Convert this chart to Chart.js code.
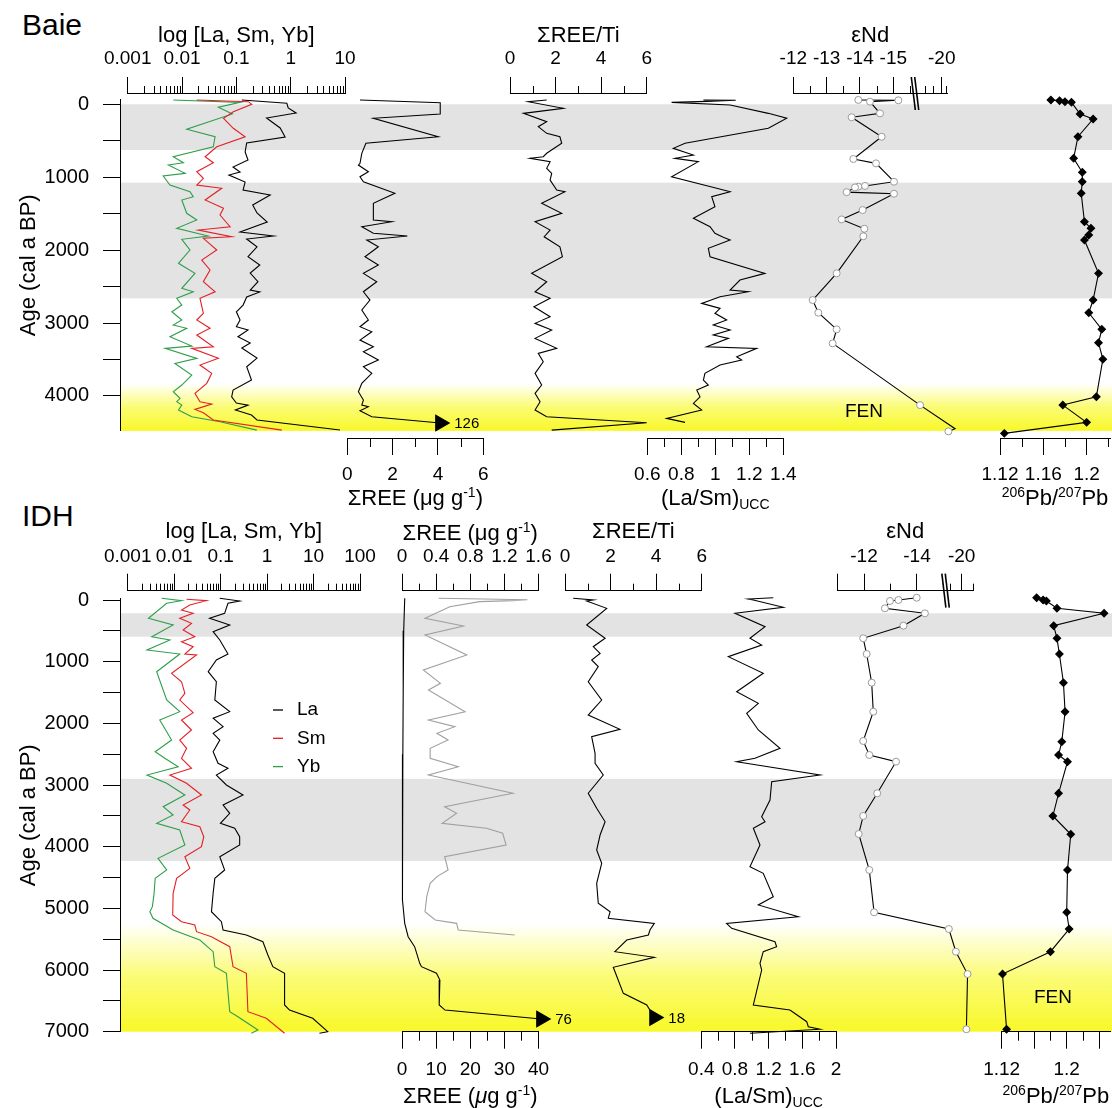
<!DOCTYPE html>
<html>
<head>
<meta charset="utf-8">
<script src="https://cdn.jsdelivr.net/npm/chart.js@4.4.1/dist/chart.umd.min.js"></script>
<style>
  html, body { margin: 0; padding: 0; background: #fff; }
  #fig { position: relative; width: 1112px; height: 1108px; overflow: hidden; font-family: 'Liberation Sans', Arial, sans-serif; }
  #fig canvas { position: absolute; pointer-events: none; }
  .plabel { position: absolute; font-size: 30px; line-height: 1; color: #000; }
</style>
</head>
<body>
<div id="fig">
  <div class="plabel" style="left:22px;top:10px">Baie</div>
  <div class="plabel" style="left:22px;top:501px">IDH</div>
</div>
<script>
// ---- Baie core (ages in cal a BP) ----
const baieLaAge = [-60,-14,51,119,188,325,449,531,654,764,860,929,970,1066,1176,1244,1382,1491,1615,1752,1807,1848,1954,2091,2205,2315,2434,2548,2575,2644,2754,2846,2960,3051,3097,3189,3275,3344,3481,3600,3783,3920,4012,4098,4126,4194,4263,4331,4468];
const baieLa = [0.126,0.85,0.90,1.26,0.36,0.64,0.79,0.155,0.145,0.164,0.087,0.117,0.073,0.145,0.133,0.42,0.20,0.24,0.37,0.117,0.48,0.155,0.24,0.164,0.27,0.18,0.25,0.18,0.27,0.155,0.133,0.10,0.117,0.10,0.164,0.107,0.18,0.126,0.24,0.155,0.19,0.087,0.082,0.10,0.164,0.096,0.19,0.24,8.1];
const baieSmAge = [-60,-36,0,102,192,329,445,582,719,801,925,1015,1107,1152,1313,1427,1519,1679,1725,1817,1838,1999,2136,2273,2434,2571,2662,2867,2959,3073,3165,3326,3348,3485,3577,3691,3828,3965,4080,4112,4185,4231,4331,4469];
const baieSm = [0.0187,0.166,0.192,0.088,0.058,0.088,0.145,0.0436,0.0266,0.0377,0.0187,0.0247,0.0187,0.0538,0.0266,0.058,0.050,0.0766,0.020,0.0822,0.0247,0.0436,0.0231,0.0328,0.0247,0.0406,0.0214,0.0247,0.0187,0.0328,0.0187,0.0377,0.0151,0.0467,0.0214,0.0352,0.0285,0.0173,0.0214,0.0352,0.0173,0.0247,0.0377,0.686];
const baieYbAge = [-60,-27,41,133,343,445,582,719,801,833,947,984,1107,1199,1268,1313,1495,1587,1701,1807,1852,1999,2181,2319,2524,2571,2662,2754,2846,2959,3028,3073,3189,3316,3348,3485,3554,3714,3851,3943,4034,4080,4126,4194,4286,4355,4469];
const baieYb = [0.0069,0.117,0.0467,0.0843,0.0122,0.0406,0.0377,0.0069,0.0106,0.0056,0.0114,0.0045,0.0060,0.0140,0.0161,0.0099,0.0122,0.0187,0.0080,0.0305,0.0099,0.0140,0.0086,0.0173,0.0099,0.0161,0.0080,0.0099,0.0065,0.0099,0.0069,0.0122,0.0060,0.0151,0.0049,0.0187,0.0074,0.0151,0.0099,0.0069,0.0092,0.0080,0.0099,0.0086,0.0151,0.050,0.238];
const baieReeAge = [-60,-22,33,133,192,445,535,672,809,833,925,993,1062,1221,1358,1587,1611,1679,1770,1807,1862,1954,2091,2205,2319,2434,2571,2685,2822,2959,3051,3120,3234,3326,3394,3508,3600,3691,3828,3943,4057,4126,4149,4204,4286,4372];
const baieRee = [0.56,5.63,4.53,6.15,1.15,4.01,0.82,0.64,0.56,0.49,0.93,0.56,0.71,2.10,1.15,1.15,1.96,0.64,1.15,2.65,0.86,1.37,0.78,1.37,0.71,1.30,0.71,1.00,0.64,0.93,0.56,1.08,0.56,1.15,0.71,1.37,0.71,1.08,0.64,0.49,0.71,0.64,0.93,0.56,1.08,126];
const baieReeTiAge = [-60,-36,55,124,238,307,398,445,535,672,719,741,787,878,947,1039,1176,1199,1358,1495,1611,1725,1817,1954,2091,2319,2434,2571,2662,2777,2914,3005,3097,3211,3348,3417,3531,3691,3851,3965,4080,4194,4286,4368,4469];
const baieReeTi = [1.61,0.80,2.34,0.59,1.61,1.24,1.61,2.19,2.27,1.61,1.46,0.88,1.76,1.61,1.83,1.76,2.05,2.41,1.39,2.27,1.10,1.76,1.50,2.19,2.30,0.95,1.61,1.10,1.76,1.05,1.76,1.10,1.83,1.10,2.05,1.24,1.46,1.10,1.39,1.10,1.32,1.10,1.61,6.0,1.83];
const baieLaSmAge = [-60,-55,-40,-27,10,124,192,329,535,604,696,741,787,993,1152,1199,1268,1405,1564,1679,1770,1825,1862,1976,2091,2319,2411,2548,2571,2640,2731,2799,2867,2959,3028,3097,3165,3211,3326,3348,3463,3508,3577,3691,3783,3851,3920,4012,4103,4194,4308,4363];
const baieLaSm = [0.93,1.12,0.95,0.743,1.087,1.312,1.42,1.312,0.822,0.753,0.871,0.763,0.90,0.743,1.008,1.087,0.979,0.998,0.871,0.969,0.998,1.047,1.087,0.959,0.969,1.292,1.145,1.087,1.194,1.028,0.92,1.028,0.998,1.067,0.988,1.087,0.988,1.077,0.949,1.243,1.126,1.155,1.028,0.939,0.93,0.959,0.891,0.91,0.871,0.92,0.714,0.822];
const baieNdAge = [-60,-55,-36,124,178,445,750,810,1062,1120,1130,1140,1205,1227,1451,1579,1707,1810,2319,2685,2859,3087,3279,4126,4450,4487];
const baieNd = [-13.95,-15.15,-14.30,-14.60,-13.75,-14.65,-13.80,-14.48,-15.02,-14.15,-13.95,-13.85,-13.60,-15.02,-14.08,-13.45,-14.13,-14.10,-13.30,-12.58,-12.75,-13.30,-13.18,-17.4,-21.6,-20.8];
const baiePbAge = [-60,-50,-36,-27,133,202,445,741,933,1062,1221,1611,1701,1793,1862,2319,2685,2859,3087,3271,3498,4012,4126,4363,4514];
const baiePb = [1.167,1.175,1.180,1.186,1.194,1.206,1.192,1.188,1.196,1.196,1.195,1.198,1.204,1.202,1.198,1.211,1.206,1.202,1.214,1.211,1.215,1.209,1.178,1.200,1.124];
const baieGrayBands = [[0, 627], [1075, 2662]];
const baieFenZone = [3830, 4480];

// ---- IDH core ----
const idhLaAge = [-28,16,54,216,297,405,514,649,876,973,1163,1325,1622,1811,1918,2054,2161,2270,2460,2648,2729,2838,3000,3162,3324,3459,3621,3702,3838,3973,4162,4378,4513,4756,5054,5216,5351,5432,5541,5756,5946,6053,6567,6649,6783,7000,7025];
const idhLa = [0.096,0.257,0.144,0.122,0.058,0.157,0.069,0.096,0.144,0.081,0.054,0.081,0.075,0.157,0.069,0.113,0.069,0.096,0.069,0.088,0.144,0.081,0.133,0.303,0.113,0.157,0.099,0.201,0.257,0.257,0.096,0.122,0.075,0.069,0.0635,0.104,0.113,0.358,0.813,1.04,1.33,2.38,2.38,3.04,9.6,20.2,13.4];
const idhSmAge = [-11,11,81,162,216,297,378,486,595,676,757,876,892,1189,1325,1513,1622,1827,1946,2108,2270,2405,2567,2729,2838,2972,3162,3324,3405,3595,3676,3838,4000,4162,4351,4513,4756,5108,5216,5270,5378,5460,5622,5946,6053,6676,6783,7025];
const idhSm = [0.0185,0.0495,0.0217,0.0144,0.0256,0.0132,0.0236,0.0156,0.0278,0.0144,0.0256,0.0170,0.0303,0.0088,0.0144,0.0170,0.0132,0.0256,0.0144,0.0236,0.0132,0.0185,0.0144,0.0236,0.0081,0.0185,0.0387,0.0156,0.0217,0.0144,0.0357,0.0434,0.0387,0.0170,0.0217,0.0113,0.0095,0.0093,0.0144,0.0278,0.0303,0.0635,0.157,0.185,0.358,0.387,0.96,2.38];
const idhYbAge = [-28,11,54,297,405,595,649,811,876,1163,1622,1811,1946,2270,2460,2567,2703,2838,2972,3162,3352,3486,3621,3730,3973,4189,4378,4513,4756,4973,5054,5162,5351,5513,5703,5946,6053,6676,6757,6973,7025];
const idhYb = [0.0054,0.0144,0.0069,0.0028,0.0095,0.0033,0.0081,0.0026,0.0132,0.0042,0.0069,0.0132,0.0049,0.0088,0.0039,0.0063,0.0122,0.0026,0.0069,0.0170,0.0058,0.0095,0.0042,0.0132,0.0170,0.0045,0.0069,0.0039,0.0037,0.0034,0.0030,0.0035,0.0095,0.0357,0.069,0.075,0.133,0.157,0.236,0.635,0.458];
const idhReeAge = [-30,500,1500,2500,3500,4054,4865,5243,5460,5622,5892,5946,6053,6162,6567,6649,6794];
const idhRee = [0.8,0.5,0.35,0.25,0.15,0.05,0.2,0.8,1.8,3.7,5.2,5.7,10.1,11.1,10.9,12.6,76];
const idhReeFineAge = [-28,-5,10,27,108,297,422,568,892,1135,1351,1459,1811,1946,2054,2161,2270,2405,2567,2703,2838,3134,3352,3459,3621,3702,3783,3973,4162,4378,4486,4594,4811,5054,5189,5243,5351,5432];
const idhReeFine = [0.43,1.47,1.30,0.91,0.56,0.27,0.72,0.27,0.76,0.25,0.45,0.31,0.74,0.31,0.62,0.41,0.54,0.33,0.33,0.66,0.31,1.30,0.50,0.64,0.47,0.99,1.18,1.22,0.50,0.54,0.41,0.33,0.29,0.27,0.39,0.64,0.66,1.32];
const idhReeTiAge = [-28,0,16,135,405,621,757,865,973,1081,1325,1622,1865,2097,2216,2486,2648,2838,3134,3378,3595,3811,4054,4270,4594,4918,5054,5162,5243,5351,5432,5513,5703,5794,5956,6378,6567,6770];
const idhReeTi = [0.36,1.24,0.95,1.83,0.95,1.76,1.24,1.54,1.17,1.46,1.02,1.61,1.02,2.41,1.17,1.32,1.32,1.68,1.02,1.39,1.76,1.54,1.39,1.61,1.39,1.46,1.98,1.90,4.61,3.73,3.66,2.71,2.19,5.71,2.12,2.56,3.59,18];
const idhLaSmAge = [-37,-16,0,118,216,433,621,730,919,1189,1487,1675,1837,2108,2405,2567,2622,2838,2946,3243,3514,3595,3702,3973,4324,4432,4811,4945,5135,5243,5324,5541,5622,5703,5891,6000,6567,6649,6838,6919,6961,7025];
const idhLaSm = [1.255,0.958,1.018,1.374,0.80,1.157,0.978,1.117,0.721,1.136,0.82,1.077,0.939,1.077,1.335,1.038,0.82,1.81,1.236,1.216,1.117,1.157,1.018,1.097,0.978,1.136,1.255,1.077,1.552,0.70,0.761,1.275,1.295,1.136,1.097,1.117,1.018,1.453,1.652,1.671,1.81,0.978];
const idhNdAge = [-37,0,16,135,216,417,621,876,1341,1811,2286,2513,2622,3134,3502,3794,4378,5064,5335,5703,6065,6961];
const idhNd = [-13.99,-13.30,-12.98,-12.79,-14.30,-13.49,-11.97,-12.10,-12.29,-12.35,-11.97,-12.20,-13.21,-12.50,-11.97,-11.80,-12.20,-12.38,-18.9,-19.5,-20.5,-20.4];
const idhPbAge = [-37,0,16,135,216,417,621,876,1341,1811,2297,2513,2622,3134,3502,3799,4378,5064,5335,5703,6065,6961];
const idhPb = [1.163,1.171,1.175,1.188,1.246,1.184,1.188,1.191,1.196,1.198,1.194,1.190,1.201,1.190,1.183,1.205,1.201,1.200,1.203,1.180,1.121,1.126];
const idhGrayBands = [[215, 595], [2900, 4230]];
const idhFenZone = [5240, 7000];

// ---- tick labels ----
const baieAgeTicks = [0,500,1000,1500,2000,2500,3000,3500,4000];
const idhAgeTicks = [0,500,1000,1500,2000,2500,3000,3500,4000,4500,5000,5500,6000,6500,7000];
const baieLogTicks = [0.001, 0.01, 0.1, 1, 10];
const idhLogTicks = [0.001, 0.01, 0.1, 1, 10, 100];
const reeTiTicks = [0, 2, 4, 6];
const baieLaSmTicks = [0.6, 0.8, 1, 1.2, 1.4];
const baieNdTicks = [-12, -13, -14, -15, -20];
const baiePbTicks = [1.12, 1.16, 1.2];
const idhReeFineTicks = [0, 0.4, 0.8, 1.2, 1.6];
const idhReeTicks = [0, 10, 20, 30, 40];
const idhLaSmTicks = [0.4, 0.8, 1.2, 1.6, 2];
const idhNdTicks = [-11, -12, -14, -20];
const idhNdLabeled = [-12, -14, -20];
const idhPbTicks = [1.12, 1.16, 1.2, 1.24];
const idhPbLabeled = [1.12, 1.2];

// ---------------------------------------------------------------
const FONT = "'Liberation Sans', Arial, sans-serif";
Chart.defaults.font.family = FONT;
Chart.defaults.color = '#000';
const fig = document.getElementById('fig');

const TICK_SIZE = 19, TITLE_SIZE = 22;

// panel geometry (page pixels)
const PANELS = {
  baie: { top: 0, height: 520, y0: 104.3, ppu: 0.0729, axTop: 93, axBot: 438, ageMin: -65, ageMax: 4480,
          ageTicks: baieAgeTicks, gray: baieGrayBands, fen: baieFenZone,
          tlTop: 16, tlBot: 17, mlTop: 7, mlBot: 9, lpTop: 6.5, lpBot: 8.5, titleCy: 36, richTop: 59, richBot: 59 },
  idh:  { top: 500, height: 608, y0: 600, ppu: 0.06167, axTop: 590.7, axBot: 1031.7, ageMin: -20, ageMax: 7000,
          ageTicks: idhAgeTicks, gray: idhGrayBands, fen: idhFenZone,
          tlTop: 17, tlBot: 17, mlTop: 7, mlBot: 9, lpTop: 5.5, lpBot: 10, titleCy: 531.7, richTop: 59, richBot: 63 }
};

// εNd axis with a break: values past the break are compressed
const baieNdBreak = { brk: 15.65, u20: 16.452, k: 0.25 };
const idhNdBreak = { brk: 15.1, u20: 15.69, k: 0.4415 };
function ndU(v, b) { const a = -v; return a <= b.brk ? a : b.u20 + (a - 20) * b.k; }

const minorLog = decades => decades.flatMap(d => [2,3,4,5,6,7,8,9].map(m => m * d));

function makeCanvas(left, top, w, h) {
  const c = document.createElement('canvas');
  c.width = w; c.height = h;
  c.style.left = left + 'px'; c.style.top = top + 'px';
  c.style.width = w + 'px'; c.style.height = h + 'px';
  fig.appendChild(c);
  return c;
}

function line(ages, vals, color, xAxisID, extra) {
  return Object.assign({
    data: ages.map((a, i) => ({ x: vals[i], y: a })),
    borderColor: color, borderWidth: 1.1, pointRadius: 0, tension: 0, fill: false,
    clip: false, xAxisID, yAxisID: 'y'
  }, extra || {});
}

// line ending in an off-scale value drawn as an arrow
function capped(ages, vals, cap, xAxisID) {
  const n = vals.length;
  return line(ages, vals.map(v => Math.min(v, cap)), '#000', xAxisID, {
    pointStyle: 'triangle', pointRotation: 90, pointBackgroundColor: '#000', pointBorderColor: '#000',
    pointRadius: c => (c.dataIndex === n - 1 && vals[n - 1] > cap ? 9 : 0)
  });
}

function decor(d) {
  return {
    id: 'decor',
    afterDatasetsDraw(chart) {
      const ctx = chart.ctx;
      (d.arrows || []).forEach(a => {
        const el = chart.getDatasetMeta(a.dataset).data[a.index];
        ctx.save();
        ctx.fillStyle = '#000'; ctx.font = '15px ' + FONT;
        ctx.textAlign = 'left'; ctx.textBaseline = 'middle';
        ctx.fillText(a.text, el.x + a.dx, el.y + 1);
        ctx.restore();
      });
    },
    afterDraw(chart) {
      const ctx = chart.ctx;
      ctx.save();
      ctx.strokeStyle = '#000'; ctx.fillStyle = '#000'; ctx.lineWidth = 1;
      (d.minor || []).forEach(m => {
        const s = chart.scales[m.axis];
        const top = s.position === 'top';
        const base = top ? s.bottom : s.top;
        ctx.beginPath();
        m.values.forEach(v => {
          const x = Math.round(s.getPixelForValue(v)) + 0.5;
          ctx.moveTo(x, base); ctx.lineTo(x, base + (top ? -m.len : m.len));
        });
        ctx.stroke();
      });
      (d.breaks || []).forEach(b => {
        const s = chart.scales[b.axis];
        const x = s.getPixelForValue(b.at);
        const base = s.bottom;
        ctx.lineWidth = 1.6;
        [-1.7, 1.7].forEach(o => {
          ctx.beginPath(); ctx.moveTo(x + o - 2, base - b.up); ctx.lineTo(x + o + 2, base + b.down); ctx.stroke();
        });
        ctx.lineWidth = 1;
      });
      (d.rich || []).forEach(it => {
        const s = chart.scales[it.axis];
        const size = TITLE_SIZE;
        const cy = s.position === 'top' ? s.bottom - it.dy : s.top + it.dy;
        const cx = (s.left + s.right) / 2;
        const runs = it.parts.map(p => {
          const fs = (p.sub || p.sup) ? 14 : size;
          const font = (p.it ? 'italic ' : '') + fs + 'px ' + FONT;
          ctx.font = font;
          return Object.assign({ font, w: ctx.measureText(p.t).width }, p);
        });
        let x = cx - runs.reduce((a, r) => a + r.w, 0) / 2;
        const base = cy + size * 0.36;
        ctx.textAlign = 'left'; ctx.textBaseline = 'alphabetic';
        runs.forEach(r => {
          ctx.font = r.font;
          ctx.fillText(r.t, x, r.sup ? base - 7.5 : r.sub ? base + 4 : base);
          x += r.w;
        });
      });
      (d.notes || []).forEach(n => {
        const s = chart.scales[n.axis];
        ctx.font = '19px ' + FONT; ctx.textAlign = 'center'; ctx.textBaseline = 'middle';
        ctx.fillText(n.text, s.getPixelForValue(n.x), chart.scales.y.getPixelForValue(n.age));
      });
      if (d.legend) {
        const L = d.legend, ca = chart.chartArea;
        chart.data.datasets.forEach((ds, i) => {
          const y = ca.top + L.dy + i * L.gap;
          ctx.strokeStyle = ds.borderColor; ctx.lineWidth = 1.3;
          ctx.beginPath(); ctx.moveTo(ca.left + L.dx, y); ctx.lineTo(ca.left + L.dx + 10, y); ctx.stroke();
          ctx.fillStyle = '#000'; ctx.font = '19px ' + FONT; ctx.textAlign = 'left'; ctx.textBaseline = 'middle';
          ctx.fillText(ds.label, ca.left + L.tx, y);
        });
      }
      ctx.restore();
    }
  };
}

function xAxis(P, a, boxH) {
  const tf = a.tf || (v => v);
  const top = a.pos === 'top';
  const labeled = a.labeled || a.major;
  const labels = a.major.map(v => (labeled.includes(v) ? String(v) : ''));
  return {
    type: a.type || 'linear', position: a.pos,
    min: tf(a.min), max: tf(a.max),
    grid: { display: true, drawOnChartArea: false, drawTicks: true, tickLength: top ? P.tlTop : P.tlBot, color: '#000', lineWidth: 1 },
    border: { display: true, color: '#000', width: 1 },
    ticks: { autoSkip: false, maxRotation: 0, minRotation: 0, padding: top ? P.lpTop : P.lpBot,
             color: '#000', font: { size: TICK_SIZE }, callback: (v, i) => labels[i] },
    title: a.title
      ? { display: true, text: a.title, color: '#000', font: { size: TITLE_SIZE },
          padding: { top: P.titleCy - P.top - TITLE_SIZE * 0.6, bottom: 0 } }
      : { display: false },
    afterBuildTicks: s => { s.ticks = a.major.map(v => ({ value: tf(v) })); },
    afterFit: s => { s.height = boxH; s.paddingLeft = 0; s.paddingRight = 0; }
  };
}

function buildTrack(P, t) {
  const left = Math.floor(t.x0) - 60;
  const w = Math.ceil(t.x1) + 60 - left;
  const canvas = makeCanvas(left, P.top, w, P.height);
  const topH = P.axTop - P.top, botH = P.top + P.height - P.axBot;
  const hasTop = t.axes.some(a => a.pos === 'top');
  const hasBot = t.axes.some(a => a.pos === 'bottom');
  const scales = {
    y: { type: 'linear', display: false, reverse: true, min: (P.axTop - P.y0) / P.ppu, max: (P.axBot - P.y0) / P.ppu }
  };
  const minor = [], rich = [];
  t.axes.forEach(a => {
    scales[a.id] = xAxis(P, a, a.pos === 'top' ? topH : botH);
    if (a.minor) minor.push({ axis: a.id, values: a.minor.map(a.tf || (v => v)), len: a.pos === 'top' ? P.mlTop : P.mlBot });
    if (a.rich) rich.push({ axis: a.id, parts: a.rich, dy: a.pos === 'top' ? P.richTop : P.richBot });
  });
  new Chart(canvas, {
    type: 'line',
    data: { datasets: t.datasets },
    options: {
      responsive: false, animation: false, events: [],
      layout: { padding: { left: t.x0 - left, right: left + w - t.x1, top: hasTop ? 0 : topH, bottom: hasBot ? 0 : botH } },
      scales,
      plugins: { legend: { display: false }, tooltip: { enabled: false } }
    },
    plugins: [decor(Object.assign({ minor, rich }, t.decor || {}))]
  });
}

function bandsPlugin(gray, fen) {
  return {
    id: 'bands',
    beforeDraw(chart) {
      const { ctx, chartArea: ca } = chart;
      const y = chart.scales.y;
      ctx.save();
      ctx.fillStyle = '#e3e3e3';
      gray.forEach(([a, b]) => {
        const ya = y.getPixelForValue(a), yb = y.getPixelForValue(b);
        ctx.fillRect(ca.left, ya, ca.right - ca.left, yb - ya);
      });
      const ya = y.getPixelForValue(fen[0]), yb = y.getPixelForValue(fen[1]);
      const g = ctx.createLinearGradient(0, ya, 0, yb);
      g.addColorStop(0, 'rgba(250,250,70,0)');
      g.addColorStop(0.5, 'rgba(250,250,70,0.75)');
      g.addColorStop(1, 'rgba(248,248,40,1)');
      ctx.fillStyle = g;
      ctx.fillRect(ca.left, ya, ca.right - ca.left, yb - ya);
      ctx.restore();
    }
  };
}

function backdrop(P) {
  const canvas = makeCanvas(0, P.top, 1112, P.height);
  const yTop = P.y0 + P.ageMin * P.ppu, yBot = P.y0 + P.ageMax * P.ppu;
  new Chart(canvas, {
    type: 'line',
    data: { datasets: [] },
    options: {
      responsive: false, animation: false, events: [],
      layout: { padding: { top: yTop - P.top, bottom: P.top + P.height - yBot, left: 0, right: 0 } },
      scales: {
        x: { type: 'linear', display: false, min: 0, max: 1 },
        y: {
          type: 'linear', reverse: true, position: 'left', min: P.ageMin, max: P.ageMax,
          grid: { display: true, drawOnChartArea: false, tickLength: 17, color: '#000' },
          border: { display: true, color: '#000', width: 1 },
          ticks: { autoSkip: false, padding: 14, color: '#000', font: { size: 20 },
                   callback: v => (v % 1000 === 0 ? String(v) : '') },
          title: { display: true, text: 'Age (cal a BP)', color: '#000', font: { size: 22 }, padding: { top: 16, bottom: 0 } },
          afterBuildTicks: s => { s.ticks = P.ageTicks.map(v => ({ value: v })); },
          afterFit: s => { s.width = 120; s.paddingTop = 0; s.paddingBottom = 0; }
        }
      },
      plugins: { legend: { display: false }, tooltip: { enabled: false } }
    },
    plugins: [bandsPlugin(P.gray, P.fen)]
  });
}

const RED = '#e41e26', GREEN = '#2e9e4a';
const reeTitle = [{ t: 'ΣREE (μg g' }, { t: '-1', sup: true }, { t: ')' }];
const reeTitleIt = [{ t: 'ΣREE (' }, { t: 'μ', it: true }, { t: 'g g' }, { t: '-1', sup: true }, { t: ')' }];
const laSmTitle = [{ t: '(La/Sm)' }, { t: 'UCC', sub: true }];
const pbTitle = [{ t: '206', sup: true }, { t: 'Pb/' }, { t: '207', sup: true }, { t: 'Pb' }];
const ndPoints = { pointRadius: 3.5, pointStyle: 'circle', pointBackgroundColor: '#fff', pointBorderColor: '#9a9a9a', pointBorderWidth: 1 };
const pbPoints = { pointRadius: 3.7, pointStyle: 'rectRot', pointBackgroundColor: '#000', pointBorderColor: '#000' };

// ================= Baie =================
const B = PANELS.baie;
backdrop(B);
buildTrack(B, { x0: 127.7, x1: 345, axes: [
  { id: 'x', pos: 'top', type: 'logarithmic', min: 0.001, max: 10, major: baieLogTicks,
    minor: minorLog([0.001, 0.01, 0.1, 1]), title: 'log [La, Sm, Yb]' }],
  datasets: [
    line(baieLaAge, baieLa, '#000', 'x', { label: 'La' }),
    line(baieSmAge, baieSm, RED, 'x', { label: 'Sm' }),
    line(baieYbAge, baieYb, GREEN, 'x', { label: 'Yb' })] });
buildTrack(B, { x0: 347.3, x1: 483.3, axes: [
  { id: 'x', pos: 'bottom', min: 0, max: 6, major: reeTiTicks, minor: [1, 3, 5], rich: reeTitle }],
  datasets: [capped(baieReeAge, baieRee, 4.1, 'x')],
  decor: { arrows: [{ dataset: 0, index: baieRee.length - 1, text: String(baieRee[baieRee.length - 1]), dx: 14 }] } });
buildTrack(B, { x0: 510, x1: 646.7, axes: [
  { id: 'x', pos: 'top', min: 0, max: 6, major: reeTiTicks, minor: [1, 3, 5], title: 'ΣREE/Ti' }],
  datasets: [line(baieReeTiAge, baieReeTi, '#000', 'x')] });
buildTrack(B, { x0: 647.3, x1: 783.3, axes: [
  { id: 'x', pos: 'bottom', min: 0.6, max: 1.4, major: baieLaSmTicks, minor: [0.7, 0.9, 1.1, 1.3], rich: laSmTitle }],
  datasets: [line(baieLaSmAge, baieLaSm, '#000', 'x')] });
const baieTf = v => ndU(v, baieNdBreak);
buildTrack(B, { x0: 793.3, x1: 947, axes: [
  { id: 'x', pos: 'top', min: -12, max: -20.63, tf: baieTf, major: baieNdTicks,
    minor: [-12.5, -13.5, -14.5, -15.5, -18, -19, -20.5], title: 'εNd' }],
  datasets: [line(baieNdAge, baieNd.map(baieTf), '#000', 'x', ndPoints)],
  decor: { breaks: [{ axis: 'x', at: 15.65, up: 16, down: 17 }],
           notes: [{ axis: 'x', text: 'FEN', x: 14.12, age: 4217 }] } });
buildTrack(B, { x0: 1000, x1: 1110, axes: [
  { id: 'x', pos: 'bottom', min: 1.12, max: 1.2216, major: baiePbTicks, minor: [1.14, 1.18, 1.22], rich: pbTitle }],
  datasets: [line(baiePbAge, baiePb, '#000', 'x', pbPoints)] });

// ================= IDH =================
const I = PANELS.idh;
backdrop(I);
buildTrack(I, { x0: 127.7, x1: 360, axes: [
  { id: 'x', pos: 'top', type: 'logarithmic', min: 0.001, max: 100, major: idhLogTicks,
    minor: minorLog([0.001, 0.01, 0.1, 1, 10]), title: 'log [La, Sm, Yb]' }],
  datasets: [
    line(idhLaAge, idhLa, '#000', 'x', { label: 'La' }),
    line(idhSmAge, idhSm, RED, 'x', { label: 'Sm' }),
    line(idhYbAge, idhYb, GREEN, 'x', { label: 'Yb' })],
  decor: { legend: { dx: 145.3, tx: 169.3, dy: 119.3, gap: 28.3 } } });
buildTrack(I, { x0: 402, x1: 538.5, axes: [
  { id: 'x2', pos: 'top', min: 0, max: 1.6, major: idhReeFineTicks, minor: [0.2, 0.6, 1.0, 1.4], rich: reeTitle },
  { id: 'x', pos: 'bottom', min: 0, max: 40, major: idhReeTicks, minor: [5, 15, 25, 35], rich: reeTitleIt }],
  datasets: [
    line(idhReeFineAge, idhReeFine, '#a0a0a0', 'x2'),
    capped(idhReeAge, idhRee, 40.8, 'x')],
  decor: { arrows: [{ dataset: 1, index: idhRee.length - 1, text: String(idhRee[idhRee.length - 1]), dx: 14 }] } });
buildTrack(I, { x0: 565, x1: 701.7, axes: [
  { id: 'x', pos: 'top', min: 0, max: 6, major: reeTiTicks, minor: [1, 3, 5], title: 'ΣREE/Ti' }],
  datasets: [capped(idhReeTiAge, idhReeTi, 3.92, 'x')],
  decor: { arrows: [{ dataset: 0, index: idhReeTi.length - 1, text: String(idhReeTi[idhReeTi.length - 1]), dx: 14 }] } });
buildTrack(I, { x0: 701.3, x1: 836, axes: [
  { id: 'x', pos: 'bottom', min: 0.4, max: 2, major: idhLaSmTicks, minor: [0.6, 1.0, 1.4, 1.8], rich: laSmTitle }],
  datasets: [line(idhLaSmAge, idhLaSm, '#000', 'x')] });
const idhTf = v => ndU(v, idhNdBreak);
buildTrack(I, { x0: 837, x1: 973.4, axes: [
  { id: 'x', pos: 'top', min: -10.98, max: -21.0, tf: idhTf, major: idhNdTicks, labeled: idhNdLabeled,
    minor: [-13, -15, -19, -21], title: 'εNd' }],
  datasets: [line(idhNdAge, idhNd.map(idhTf), '#000', 'x', ndPoints)],
  decor: { breaks: [{ axis: 'x', at: 15.08, up: 17, down: 17 }] } });
buildTrack(I, { x0: 1001.7, x1: 1110, axes: [
  { id: 'x', pos: 'bottom', min: 1.12, max: 1.2533, major: idhPbTicks, labeled: idhPbLabeled,
    minor: [1.14, 1.18, 1.22], rich: pbTitle }],
  datasets: [line(idhPbAge, idhPb, '#000', 'x', pbPoints)],
  decor: { notes: [{ axis: 'x', text: 'FEN', x: 1.183, age: 6454 }] } });
</script>
</body>
</html>
